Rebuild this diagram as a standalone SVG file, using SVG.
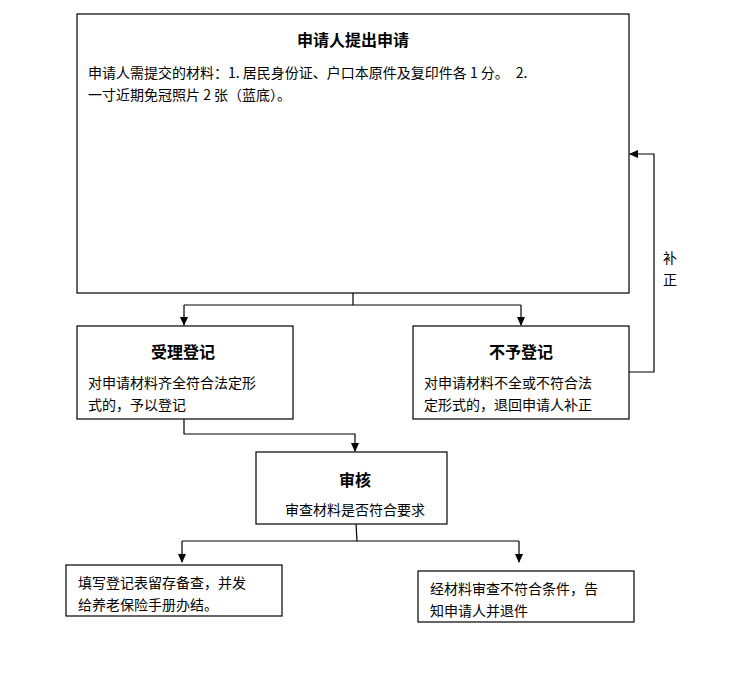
<svg xmlns="http://www.w3.org/2000/svg" width="745" height="676" viewBox="0 0 745 676">
<style>
.b{fill:#fff;stroke:#000;stroke-width:1.2}
text{font-family:"Noto Sans CJK SC","Liberation Sans",sans-serif;font-size:14px;fill:#000}
.t{font-size:16px;font-weight:bold;text-anchor:middle}
.c{text-anchor:middle}
.l{fill:none;stroke:#000;stroke-width:1.2}
</style>
<defs><marker id="a" markerWidth="10" markerHeight="10" refX="5" refY="8" orient="auto" markerUnits="userSpaceOnUse" viewBox="0 0 10 10"><path d="M1,0 L9,0 L5,9 Z" fill="#000" transform="rotate(0)"/></marker>
<marker id="h" markerWidth="10" markerHeight="10" refX="9" refY="5" orient="auto" markerUnits="userSpaceOnUse" viewBox="0 0 10 10"><path d="M10,5 L1,1 L1,9 Z" fill="#000"/></marker></defs>
<rect x="0" y="0" width="745" height="676" fill="#fff"/>
<g id="connectors">
<path class="l" d="M353,293 V305 M184,305 H521"/>
<path class="l" d="M184,305 V325" marker-end="url(#h)"/>
<path class="l" d="M521,305 V325" marker-end="url(#h)"/>
<path class="l" d="M629,372 H654 V154 H630" marker-end="url(#h)"/>
<path class="l" d="M184,419 V434 H355 V451" marker-end="url(#h)"/>
<path class="l" d="M356,524 L357,541 M182,541 H519"/>
<path class="l" d="M182,541 V562" marker-end="url(#h)"/>
<path class="l" d="M519,541 V562" marker-end="url(#h)"/>
<text x="663" y="263">补</text><text x="663" y="285">正</text>
</g>
<g id="n1"><rect class="b" x="77" y="14" width="552" height="279"/>
<text class="t" x="353" y="46">申请人提出申请</text>
<text x="88" y="78">申请人需提交的材料：1. 居民身份证、户口本原件及复印件各 1 分。　2.</text>
<text x="88" y="100">一寸近期免冠照片 2 张（蓝底）。</text></g>
<g id="n2"><rect class="b" x="77" y="326" width="216" height="93"/>
<text class="t" x="183" y="358">受理登记</text>
<text x="88" y="388">对申请材料齐全符合法定形</text><text x="88" y="410">式的，予以登记</text></g>
<g id="n3"><rect class="b" x="413" y="326" width="216" height="93"/>
<text class="t" x="521" y="358">不予登记</text>
<text x="424" y="388">对申请材料不全或不符合法</text><text x="424" y="410">定形式的，退回申请人补正</text></g>
<g id="n4"><rect class="b" x="256" y="452" width="191" height="72"/>
<text class="t" x="355" y="486">审核</text>
<text class="c" x="355" y="515">审查材料是否符合要求</text></g>
<g id="n5"><rect class="b" x="66" y="565" width="216" height="51"/>
<text x="78" y="588">填写登记表留存备查，并发</text><text x="78" y="610">给养老保险手册办结。</text></g>
<g id="n6"><rect class="b" x="418" y="571" width="216" height="51"/>
<text x="430" y="594">经材料审查不符合条件，告</text><text x="430" y="616">知申请人并退件</text></g>
</svg>
